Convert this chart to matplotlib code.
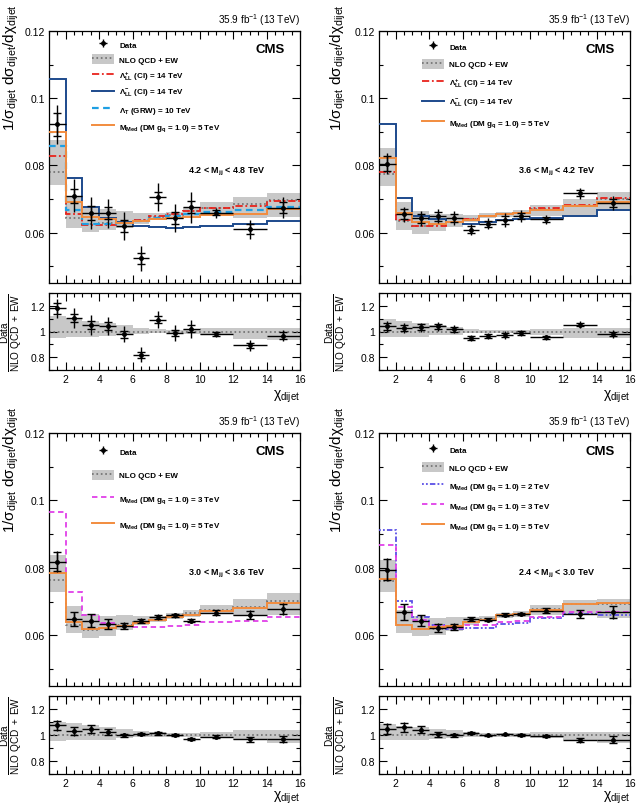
import numpy as np
import matplotlib
matplotlib.use("Agg")
import matplotlib.pyplot as plt
from matplotlib.patches import Patch
from matplotlib.lines import Line2D
from matplotlib.ticker import MultipleLocator, FormatStrFormatter

plt.rcParams['font.family'] = ['Liberation Sans', 'DejaVu Sans']
plt.rcParams['mathtext.fontset'] = 'custom'
plt.rcParams['mathtext.rm'] = 'Liberation Sans'
plt.rcParams['mathtext.it'] = 'Liberation Sans:italic'
plt.rcParams['mathtext.bf'] = 'Liberation Sans:bold'
plt.rcParams['mathtext.default'] = 'regular'

# chi_dijet bin edges (shared by all mass ranges)
chi_edges = [1, 2, 3, 4, 5, 6, 7, 8, 9, 10, 12, 14, 16]

# ---- 4.2 < Mjj < 4.8 TeV ----
data_42 = [0.0922, 0.0710, 0.0658, 0.0657, 0.0620, 0.0523, 0.0705, 0.0644, 0.0676, 0.0659, 0.0610, 0.0674]
tot_42 = [0.0058, 0.0050, 0.0048, 0.0044, 0.0041, 0.0037, 0.0042, 0.0041, 0.0046, 0.0015, 0.0028, 0.0032]
stat_42 = [0.0034, 0.0021, 0.0020, 0.0018, 0.0017, 0.0015, 0.0017, 0.0017, 0.0018, 0.0008, 0.0015, 0.0017]
nlo_42 = [0.0781, 0.0643, 0.0627, 0.0630, 0.0633, 0.0638, 0.0646, 0.0652, 0.0663, 0.0672, 0.0684, 0.0696]
up_42 = [0.12, 0.10, 0.08, 0.065, 0.05, 0.03, 0.02, 0.015, 0.02, 0.03, 0.03, 0.03]
dn_42 = [0.05, 0.045, 0.04, 0.035, 0.03, 0.02, 0.015, 0.015, 0.02, 0.03, 0.06, 0.07]
cip_42 = [0.0828, 0.0656, 0.0623, 0.0624, 0.0632, 0.0637, 0.0648, 0.0654, 0.0664, 0.0672, 0.0680, 0.0693]
cim_42 = [0.1058, 0.0762, 0.0677, 0.0644, 0.0631, 0.0620, 0.0616, 0.0614, 0.0616, 0.0621, 0.0625, 0.0636]
grw_42 = [0.0857, 0.0668, 0.0627, 0.0626, 0.0630, 0.0635, 0.0644, 0.0649, 0.0655, 0.0662, 0.0666, 0.0675]
dm5_42 = [0.0899, 0.0692, 0.0647, 0.0640, 0.0630, 0.0635, 0.0640, 0.0643, 0.0645, 0.0651, 0.0654, 0.0670]

# ---- 3.6 < Mjj < 4.2 TeV ----
data_36 = [0.0805, 0.0654, 0.0642, 0.0649, 0.0643, 0.0609, 0.0626, 0.0637, 0.0649, 0.0639, 0.0717, 0.0688]
tot_36 = [0.0032, 0.0023, 0.0022, 0.0021, 0.0020, 0.0016, 0.0016, 0.0021, 0.0017, 0.0013, 0.0016, 0.0021]
stat_36 = [0.0022, 0.0015, 0.0013, 0.0013, 0.0012, 0.0010, 0.0010, 0.0011, 0.0010, 0.0007, 0.0009, 0.0012]
nlo_36 = [0.0773, 0.0636, 0.0621, 0.0624, 0.0632, 0.0640, 0.0650, 0.0654, 0.0657, 0.0670, 0.0680, 0.0701]
up_36 = [0.10, 0.085, 0.07, 0.05, 0.035, 0.02, 0.015, 0.012, 0.015, 0.02, 0.03, 0.03]
dn_36 = [0.045, 0.045, 0.04, 0.03, 0.025, 0.015, 0.012, 0.012, 0.015, 0.03, 0.05, 0.05]
cip_36 = [0.0780, 0.0637, 0.0619, 0.0621, 0.0631, 0.0639, 0.0649, 0.0656, 0.0659, 0.0672, 0.0682, 0.0702]
cim_36 = [0.0924, 0.0704, 0.0649, 0.0640, 0.0632, 0.0627, 0.0633, 0.0638, 0.0640, 0.0643, 0.0650, 0.0668]
dm5_36 = [0.0823, 0.0657, 0.0633, 0.0627, 0.0631, 0.0638, 0.0648, 0.0655, 0.0657, 0.0667, 0.0679, 0.0692]

# ---- 3.0 < Mjj < 3.6 TeV ----
data_30 = [0.0819, 0.0649, 0.0644, 0.0634, 0.0629, 0.0644, 0.0654, 0.0659, 0.0644, 0.0667, 0.0661, 0.0678]
tot_30 = [0.0030, 0.0021, 0.0020, 0.0015, 0.0010, 0.0008, 0.0008, 0.0007, 0.0007, 0.0009, 0.0013, 0.0017]
stat_30 = [0.0029, 0.0020, 0.0019, 0.0014, 0.0009, 0.0006, 0.0006, 0.0005, 0.0005, 0.0008, 0.0012, 0.0016]
nlo_30 = [0.0763, 0.0631, 0.0617, 0.0621, 0.0631, 0.0639, 0.0646, 0.0657, 0.0665, 0.0676, 0.0684, 0.0702]
up_30 = [0.10, 0.09, 0.075, 0.06, 0.045, 0.03, 0.02, 0.015, 0.015, 0.02, 0.035, 0.035]
dn_30 = [0.045, 0.04, 0.04, 0.035, 0.025, 0.015, 0.012, 0.012, 0.015, 0.02, 0.04, 0.06]
dm3_30 = [0.0967, 0.0728, 0.0659, 0.0637, 0.0629, 0.0625, 0.0625, 0.0628, 0.0632, 0.0639, 0.0643, 0.0655]
dm5_30 = [0.0784, 0.0639, 0.0619, 0.0621, 0.0629, 0.0637, 0.0647, 0.0654, 0.0661, 0.0671, 0.0680, 0.0696]

# ---- 2.4 < Mjj < 3.0 TeV ----
data_24 = [0.0795, 0.0669, 0.0644, 0.0623, 0.0626, 0.0649, 0.0647, 0.0661, 0.0663, 0.0673, 0.0664, 0.0669]
tot_24 = [0.0033, 0.0024, 0.0017, 0.0013, 0.0010, 0.0007, 0.0005, 0.0005, 0.0005, 0.0008, 0.0012, 0.0019]
stat_24 = [0.0032, 0.0023, 0.0016, 0.0012, 0.0009, 0.0006, 0.0004, 0.0004, 0.0004, 0.0007, 0.0011, 0.0018]
nlo_24 = [0.0760, 0.0632, 0.0619, 0.0620, 0.0628, 0.0639, 0.0649, 0.0658, 0.0663, 0.0678, 0.0692, 0.0694]
up_24 = [0.085, 0.07, 0.06, 0.05, 0.04, 0.025, 0.015, 0.012, 0.015, 0.02, 0.02, 0.02]
dn_24 = [0.04, 0.04, 0.035, 0.03, 0.025, 0.015, 0.012, 0.012, 0.012, 0.025, 0.04, 0.06]
dm2_24 = [0.0911, 0.0702, 0.0655, 0.0632, 0.0620, 0.0622, 0.0622, 0.0634, 0.0636, 0.0652, 0.0663, 0.0661]
dm3_24 = [0.0869, 0.0684, 0.0647, 0.0628, 0.0623, 0.0630, 0.0630, 0.0640, 0.0643, 0.0656, 0.0668, 0.0670]
dm5_24 = [0.0767, 0.0632, 0.0618, 0.0624, 0.0629, 0.0641, 0.0647, 0.0660, 0.0664, 0.0675, 0.0694, 0.0695]

band_color = '#c8c8c8'
nlo_color = '#6e6e6e'
styles = {
    'cip': dict(color='#e8231c', ls=(0, (4, 1.5, 1, 1.5)), lw=1.3),
    'cim': dict(color='#1d4a8c', ls='-', lw=1.4),
    'grw': dict(color='#1e9fe3', ls=(0, (3, 2)), lw=1.6),
    'dm5': dict(color='#f28c3e', ls='-', lw=1.4),
    'dm3': dict(color='#e040e8', ls=(0, (3, 2)), lw=1.3),
    'dm2': dict(color='#5a4fe6', ls=(0, (1, 1.2, 1, 1.2, 3, 1.2)), lw=1.3),
}
labels = {
    'cip': r'$\Lambda^{+}_{LL}$ (CI) = 14 TeV',
    'cim': r'$\Lambda^{-}_{LL}$ (CI) = 14 TeV',
    'grw': r'$\Lambda_{T}$ (GRW) = 10 TeV',
    'dm5': r'M$_{Med}$ (DM g$_{q}$ = 1.0) = 5 TeV',
    'dm3': r'M$_{Med}$ (DM g$_{q}$ = 1.0) = 3 TeV',
    'dm2': r'M$_{Med}$ (DM g$_{q}$ = 1.0) = 2 TeV',
}


def style_axes(ax):
    ax.set_xlim(1, 16)
    ax.xaxis.set_major_locator(MultipleLocator(2))
    ax.xaxis.set_minor_locator(MultipleLocator(0.5))
    ax.tick_params(which='both', direction='in', top=True, right=True,
                   labelsize=7.5, width=0.8, pad=3)
    ax.tick_params(which='major', length=6)
    ax.tick_params(which='minor', length=3)
    for s in ax.spines.values():
        s.set_linewidth(0.9)


def draw_panel(ax, axr, data, tot, stat, nlo, up, dn, models, mass_text,
               leg_top, leg_space, ylab_x, rlab_x, xlab_y):
    edges = np.array(chi_edges, dtype=float)
    centers = 0.5 * (edges[1:] + edges[:-1])
    half = 0.5 * np.diff(edges)
    data = np.array(data)
    tot = np.array(tot)
    stat = np.array(stat)
    nlo = np.array(nlo)
    up = np.array(up)
    dn = np.array(dn)

    # main panel
    ax.stairs(nlo * (1 + up), edges, baseline=nlo * (1 - dn), fill=True,
              color=band_color, lw=0, zorder=1)
    ax.stairs(nlo, edges, baseline=None, color=nlo_color, ls=':', lw=1.2, zorder=2)
    model_handles = []
    for key, vals in models:
        ax.stairs(vals, edges, baseline=None, zorder=3, **styles[key])
        model_handles.append(Line2D([], [], **styles[key]))
    h_data = ax.errorbar(centers, data, xerr=half, yerr=tot, fmt='o', ms=2.5,
                         color='k', lw=1, capsize=0, zorder=5)
    ax.errorbar(centers, data, yerr=stat, fmt='none', ecolor='k', lw=1,
                capsize=3, capthick=1, zorder=5)

    style_axes(ax)
    ax.set_ylim(0.045, 0.12)
    ax.yaxis.set_major_locator(MultipleLocator(0.02))
    ax.yaxis.set_minor_locator(MultipleLocator(0.01))
    ax.yaxis.set_major_formatter(FormatStrFormatter('%g'))
    ax.tick_params(labelbottom=False)
    ax.set_ylabel(r'$1/\sigma_{dijet}\ d\sigma_{dijet}/d\chi_{dijet}$', fontsize=11)
    ax.yaxis.set_label_coords(ylab_x, 0.86)

    h_nlo = (Patch(facecolor=band_color, edgecolor='none'),
             Line2D([], [], color=nlo_color, ls=':', lw=1.2))
    handles = [h_data, h_nlo] + model_handles
    labs = ['Data', 'NLO QCD + EW'] + [labels[k] for k, _ in models]
    ax.legend(handles, labs, loc='upper left', bbox_to_anchor=(0.17, leg_top),
              frameon=False, prop=dict(size=5.8, weight='bold'),
              handlelength=2.8, handleheight=1.5, labelspacing=leg_space,
              handletextpad=0.6, borderpad=0, borderaxespad=0)

    ax.text(0.94, 0.93, 'CMS', transform=ax.transAxes, ha='right', va='center',
            fontsize=9.5, fontweight='bold')
    ax.text(1.0, 1.015, r'35.9 fb$^{-1}$ (13 TeV)', transform=ax.transAxes,
            ha='right', va='bottom', fontsize=7.2)
    ax.text(0.71, 0.445, mass_text, transform=ax.transAxes, ha='center',
            va='center', fontsize=6.5, fontweight='bold')

    # ratio panel
    axr.stairs(1 + up, edges, baseline=1 - dn, fill=True, color=band_color,
               lw=0, zorder=1)
    axr.axhline(1, color=nlo_color, ls=':', lw=1.2, zorder=2)
    axr.errorbar(centers, data / nlo, xerr=half, yerr=tot / nlo, fmt='o', ms=2.5,
                 color='k', lw=1, capsize=0, zorder=5)
    axr.errorbar(centers, data / nlo, yerr=stat / nlo, fmt='none', ecolor='k',
                 lw=1, capsize=3, capthick=1, zorder=5)
    style_axes(axr)
    axr.set_ylim(0.7, 1.3)
    axr.yaxis.set_major_locator(MultipleLocator(0.2))
    axr.yaxis.set_minor_locator(MultipleLocator(0.1))
    axr.yaxis.set_major_formatter(FormatStrFormatter('%g'))
    axr.set_ylabel(r'$\dfrac{Data}{NLO\ QCD\ +\ EW}$', fontsize=7.2)
    axr.yaxis.set_label_coords(rlab_x, 0.5)
    axr.text(1.0, xlab_y, r'$\chi_{dijet}$', transform=axr.transAxes,
             ha='right', va='top', fontsize=10)


fig = plt.figure(figsize=(6.43, 8.04), dpi=100)
W, H = 643.0, 804.0
col_x = [49 / W, 379 / W]
col_w = 251 / W
ylab_x = [-0.11, -0.125]
rlab_x = [-0.10, -0.118]
xlab_y = [-0.23, -0.19]
rows = [((1 - 284 / H, 252 / H), (1 - 371 / H, 77 / H)),
        ((1 - 687 / H, 253 / H), (1 - 775 / H, 78 / H))]

panels = [
    (0, 0, data_42, tot_42, stat_42, nlo_42, up_42, dn_42,
     [('cip', cip_42), ('cim', cim_42), ('grw', grw_42), ('dm5', dm5_42)],
     r'4.2 < M$_{jj}$ < 4.8 TeV', 0.967, 0.66),
    (0, 1, data_36, tot_36, stat_36, nlo_36, up_36, dn_36,
     [('cip', cip_36), ('cim', cim_36), ('dm5', dm5_36)],
     r'3.6 < M$_{jj}$ < 4.2 TeV', 0.96, 0.98),
    (1, 0, data_30, tot_30, stat_30, nlo_30, up_30, dn_30,
     [('dm3', dm3_30), ('dm5', dm5_30)],
     r'3.0 < M$_{jj}$ < 3.6 TeV', 0.948, 1.72),
    (1, 1, data_24, tot_24, stat_24, nlo_24, up_24, dn_24,
     [('dm2', dm2_24), ('dm3', dm3_24), ('dm5', dm5_24)],
     r'2.4 < M$_{jj}$ < 3.0 TeV', 0.955, 1.0),
]

for r, c, d, t, s, n, u, dd, models, mtxt, ltop, lsp in panels:
    (my, mh), (ry, rh) = rows[r]
    ax = fig.add_axes([col_x[c], my, col_w, mh])
    axr = fig.add_axes([col_x[c], ry, col_w, rh])
    draw_panel(ax, axr, d, t, s, n, u, dd, models, mtxt, ltop, lsp,
               ylab_x[c], rlab_x[c], xlab_y[r])

fig.savefig('out.png', dpi=100)
